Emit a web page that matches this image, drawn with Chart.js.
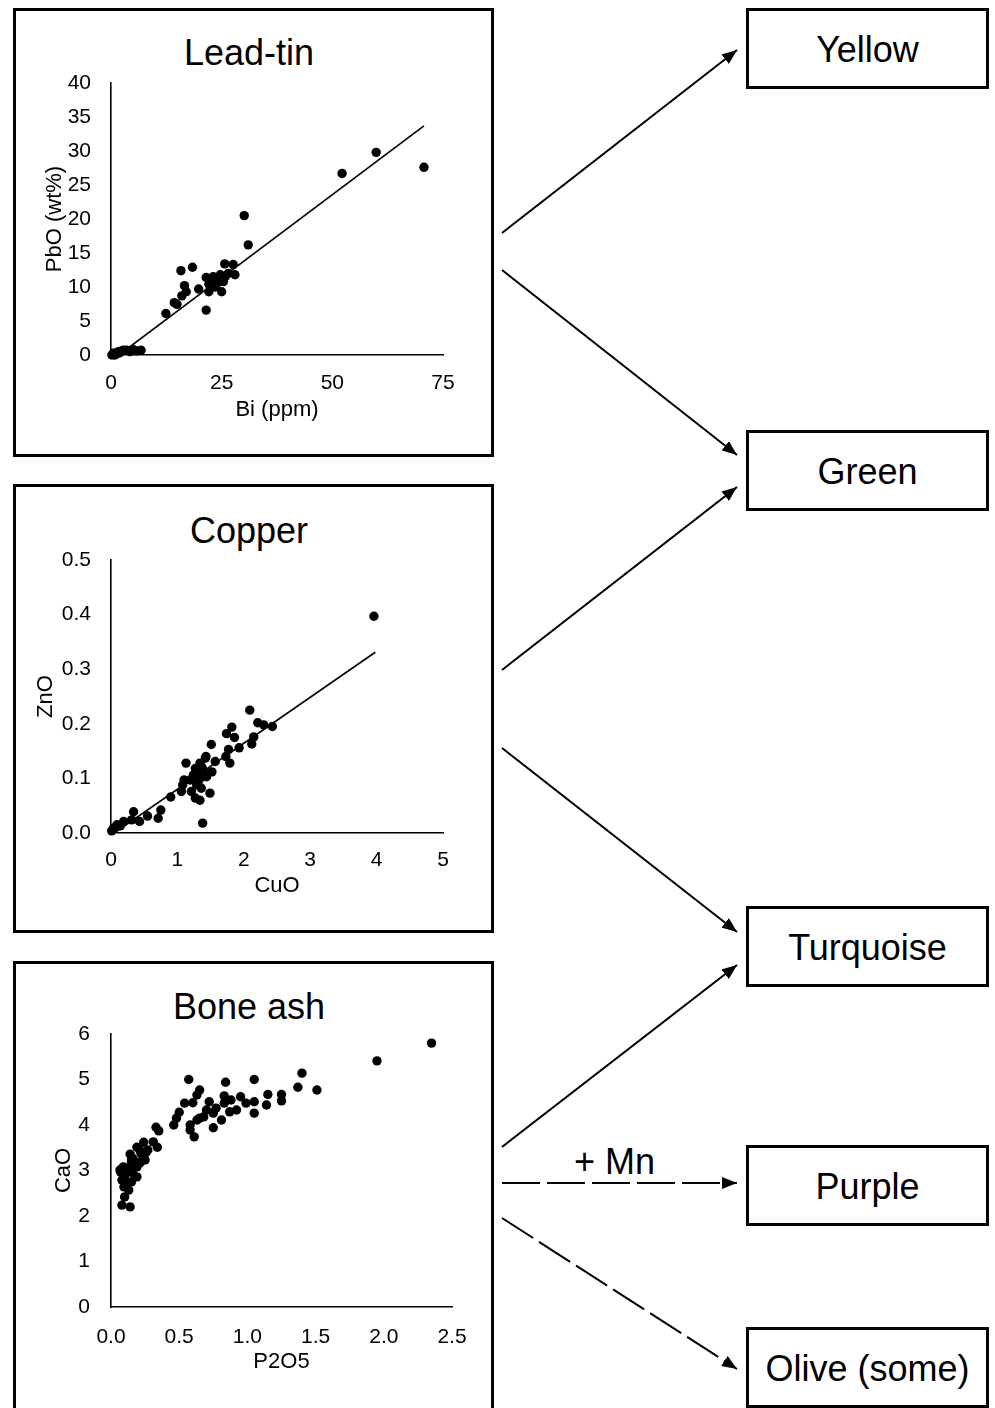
<!DOCTYPE html>
<html>
<head>
<meta charset="utf-8">
<title>Glass colourants</title>
<script src="https://cdn.jsdelivr.net/npm/chart.js@4.4.1/dist/chart.umd.min.js"></script>
<style>
  body { margin:0; width:995px; height:1408px; overflow:hidden; background:#fff; position:relative;
         font-family:"Liberation Sans", Arial, Helvetica, sans-serif; color:#000; }
  .panel { position:absolute; left:13px; width:481px; border:3px solid #000; box-sizing:border-box; }
  .panel canvas { position:absolute; left:0; top:0; }
  .panel h2 { position:absolute; left:0; width:466px; margin:0; text-align:center;
              font-weight:normal; font-size:36px; line-height:44px; }
  .colour { position:absolute; left:746px; width:243px; height:81px; border:3px solid #000; box-sizing:border-box;
            display:flex; align-items:center; justify-content:center; font-size:36px; padding:2px 0 0 0; }
  .note { position:absolute; font-size:36px; line-height:44px; }
  svg { position:absolute; left:0; top:0; }
</style>
</head>
<body>

<div class="panel" style="top:8px;height:449px">
  <h2 style="top:20px">Lead-tin</h2>
  <canvas id="leadtin" width="475" height="443"></canvas>
</div>
<div class="panel" style="top:484px;height:449px">
  <h2 style="top:22px">Copper</h2>
  <canvas id="copper" width="475" height="443"></canvas>
</div>
<div class="panel" style="top:961px;height:470px">
  <h2 style="top:21px">Bone ash</h2>
  <canvas id="boneash" width="475" height="443"></canvas>
</div>

<div class="colour" style="top:8px">Yellow</div>
<div class="colour" style="top:430px">Green</div>
<div class="colour" style="top:906px">Turquoise</div>
<div class="colour" style="top:1145px">Purple</div>
<div class="colour" style="top:1327px">Olive (some)</div>
<div class="note" style="left:574px;top:1140px">+ Mn</div>

<!-- arrows between the panels and the colour boxes -->
<svg width="995" height="1408">
  <defs>
    <marker id="head" markerUnits="userSpaceOnUse" markerWidth="15" markerHeight="12" refX="15" refY="6" orient="auto">
      <path d="M0,0 L15,6 L0,12 z" fill="#000"/>
    </marker>
  </defs>
  <g stroke="#000" stroke-width="2" fill="none" marker-end="url(#head)">
    <line x1="502" y1="233" x2="737" y2="50"/>
    <line x1="502" y1="270" x2="737" y2="455"/>
    <line x1="502" y1="670" x2="737" y2="487"/>
    <line x1="502" y1="748" x2="737" y2="932"/>
    <line x1="502" y1="1147" x2="737" y2="965"/>
    <line x1="502" y1="1183" x2="737" y2="1183" stroke-dasharray="38 7"/>
    <line x1="502" y1="1218" x2="737" y2="1369" stroke-dasharray="37 7"/>
  </g>
</svg>

<script>
// Lead-tin: Bi (ppm) vs PbO (wt%)
const biPpm = [52.2,59.9,70.7,30.1,31.0,15.8,18.4,25.7,27.6,21.5,23.1,24.7,25.8,28.0,22.1,22.1,25.0,23.9,19.8,16.6,17.0,16.0,14.3,14.9,12.4,21.5,22.8,24.3,26.5,25.4,23.5,0.2,1.3,2.4,3.5,5.0,6.8,0.9,4.3,1.9,0.5,1.65,2.8,5.8];
const pboWt = [26.7,29.8,27.6,20.5,16.2,12.4,12.9,13.4,13.3,11.4,11.5,11.8,11.5,11.8,10.4,9.3,9.3,10.5,9.7,10.2,9.3,8.7,7.7,7.45,6.1,6.6,11.0,11.3,12.0,10.8,10.0,0,0.25,0.6,0.7,0.8,0.7,0,0.5,0.3,0.25,0.5,0.7,0.6];
const leadTrendX = [1.8, 70.7];
const leadTrendY = [0, 33.7];

// Copper: CuO vs ZnO
const cuo = [3.96,2.09,2.21,2.30,2.43,1.82,1.74,1.86,2.15,2.12,1.51,1.93,1.77,1.73,1.79,1.13,1.43,1.57,1.34,1.29,1.39,1.52,1.24,1.34,1.44,1.10,1.08,1.29,1.36,1.06,1.21,1.49,1.27,1.34,0.90,1.38,0.75,0.71,0.55,0.34,0.43,0.31,0.19,0.09,0.04,0.01,0.06,0.14,1.42,1.27,1.19,1.31,1.37];
const zno = [0.397,0.225,0.202,0.198,0.195,0.194,0.182,0.175,0.176,0.163,0.162,0.156,0.153,0.140,0.128,0.128,0.140,0.131,0.128,0.115,0.115,0.112,0.106,0.100,0.103,0.097,0.088,0.088,0.082,0.076,0.076,0.073,0.064,0.060,0.066,0.018,0.042,0.027,0.031,0.039,0.021,0.024,0.021,0.015,0.009,0.004,0.010,0.013,0.137,0.118,0.097,0.092,0.120];
const copperTrendX = [0.05, 3.98];
const copperTrendY = [0, 0.331];

// Bone ash: P2O5 vs CaO
const p2o5 = [2.35,1.95,1.40,1.37,1.51,0.57,0.84,1.05,0.65,0.63,1.15,1.25,1.25,1.14,0.54,0.60,0.72,0.83,0.83,0.88,0.95,0.99,1.05,1.05,0.92,0.87,0.77,0.70,0.75,0.68,0.65,0.63,0.50,0.48,0.46,0.81,0.75,0.58,0.58,0.61,0.33,0.35,0.34,0.24,0.19,0.21,0.14,0.26,0.24,0.21,0.16,0.19,0.15,0.19,0.16,0.09,0.07,0.10,0.13,0.11,0.13,0.10,0.08,0.14,0.095,0.08,0.15,0.066,0.15,0.22,0.21,0.25,0.27,0.31,0.115];
const cao = [5.80,5.41,5.14,4.83,4.77,5.00,4.94,5.00,4.77,4.66,4.67,4.67,4.53,4.44,4.48,4.49,4.51,4.64,4.48,4.55,4.62,4.48,4.51,4.26,4.33,4.29,4.37,4.33,4.26,4.18,4.15,4.11,4.28,4.15,4.00,4.11,3.94,4.00,3.89,3.74,3.95,3.87,3.51,3.62,3.51,3.45,3.36,3.41,3.30,3.19,3.27,3.08,3.16,2.86,2.94,3.08,2.97,2.86,3.01,2.72,2.57,2.42,2.24,2.20,2.64,2.79,2.75,3.01,3.23,3.38,3.16,3.23,3.45,3.63,2.72];

const FONT = '"Liberation Sans", Arial, Helvetica, sans-serif';
const pairs = (xs, ys) => xs.map((x, i) => ({ x, y: ys[i] }));

function scatter(id, c) {
  const datasets = [{
    data: pairs(c.xs, c.ys),
    backgroundColor: '#000', borderColor: '#000',
    pointRadius: 4.7, pointHoverRadius: 4.7, borderWidth: 0,
    clip: false,
  }];
  if (c.trendX) {
    datasets.push({
      data: pairs(c.trendX, c.trendY),
      showLine: true, borderColor: '#000', borderWidth: 1.6,
      pointRadius: 0, fill: false,
    });
  }
  const axis = (a) => ({
    type: 'linear', min: a.min, max: a.max,
    grid: { display: false, drawTicks: false },
    border: { display: true, color: '#000', width: 1.6 },
    ticks: {
      stepSize: a.step, padding: a.pad, color: '#000',
      font: { family: FONT, size: 21 },
      callback: v => v.toFixed(a.dec),
    },
    title: { display: true, text: a.title, color: '#000', padding: 0, font: { family: FONT, size: 22 } },
    afterFit: a.fit,
  });
  return new Chart(document.getElementById(id), {
    type: 'scatter',
    data: { datasets },
    options: {
      responsive: false, animation: false, events: [],
      layout: { padding: c.padding },
      plugins: { legend: { display: false }, tooltip: { enabled: false } },
      scales: {
        x: axis({ ...c.x, fit: s => { s.height = c.xHeight; } }),
        y: axis({ ...c.y, fit: s => { s.width = c.yWidth; } }),
      },
    },
  });
}

scatter('leadtin', {
  xs: biPpm, ys: pboWt, trendX: leadTrendX, trendY: leadTrendY,
  x: { min: 0, max: 75, step: 25, dec: 0, pad: 15.4, title: 'Bi (ppm)' },
  y: { min: 0, max: 40, step: 5, dec: 0, pad: 20, title: 'PbO (wt%)' },
  padding: { left: 25.8, right: 48, top: 72, bottom: 30.8 },
  yWidth: 69.2, xHeight: 68.2,
});

scatter('copper', {
  xs: cuo, ys: zno, trendX: copperTrendX, trendY: copperTrendY,
  x: { min: 0, max: 5, step: 1, dec: 0, pad: 14.4, title: 'CuO' },
  y: { min: 0, max: 0.5, step: 0.1, dec: 1, pad: 20, title: 'ZnO' },
  padding: { left: 16.8, right: 48, top: 73, bottom: 30.8 },
  yWidth: 78.2, xHeight: 66.2,
});

scatter('boneash', {
  xs: p2o5, ys: cao,
  x: { min: 0, max: 2.5, step: 0.5, dec: 1, pad: 17.4, title: 'P2O5' },
  y: { min: 0, max: 6, step: 1, dec: 0, pad: 21, title: 'CaO' },
  padding: { left: 34.8, right: 39, top: 70, bottom: 31.8 },
  yWidth: 60.2, xHeight: 68.2,
});
</script>
</body>
</html>
